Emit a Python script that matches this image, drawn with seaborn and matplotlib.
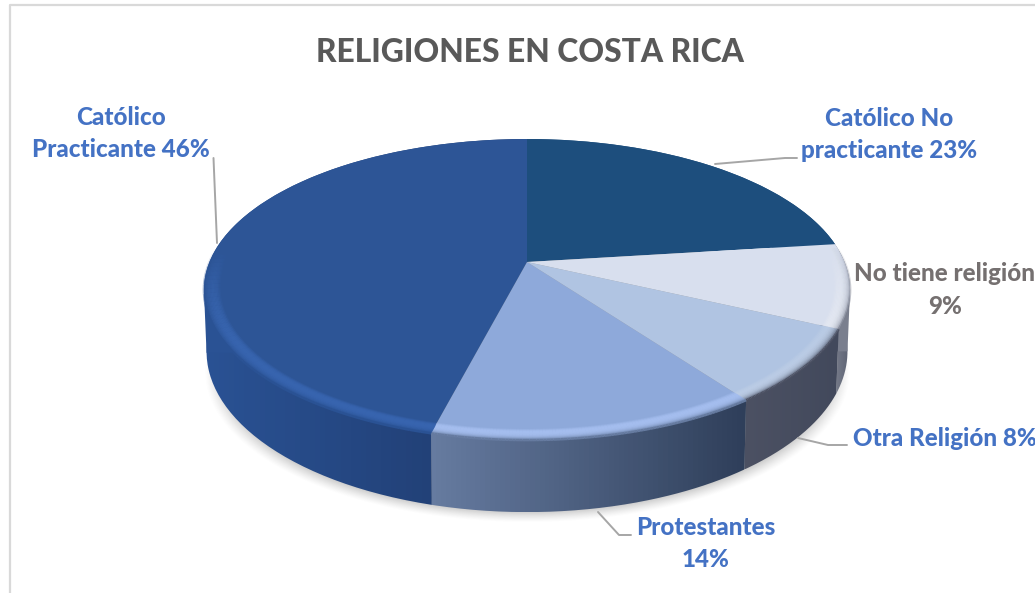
import matplotlib
matplotlib.use('Agg')
import matplotlib.pyplot as plt
import matplotlib.transforms as mtransforms
from matplotlib.collections import LineCollection
from matplotlib.colors import LinearSegmentedColormap, to_rgb
from matplotlib.patches import PathPatch
from matplotlib.path import Path
import seaborn as sns
import numpy as np

categories = ['Católico No\npracticante', 'No tiene religión\n', 'Otra Religión', 'Protestantes\n', 'Católico\nPracticante']
values = [23, 9, 8, 14, 46]
top_colors = ['#1d4e7d', '#d8dfee', '#b0c4e2', '#8ea9da', '#2d5596']
bevel_colors = ['#1d4e7d', '#e6eaf3', '#bccde6', '#a6bff0', '#3865b0']
rim_left = ['#1d4e7d', '#7a7f8e', '#4c5163', '#667ba0', '#2a5294']
rim_right = ['#1d4e7d', '#5a6070', '#42495c', '#2f3f5a', '#1f3a6c']
label_colors = ['#4472c4', '#757070', '#4472c4', '#4472c4', '#4472c4']

# pie geometry in pixels
CX, CY = 527.0, 262.0
A, B, K = 317.6, 145.5, 0.183
DEPTH = 60.0
SHRINK = 0.992


class Perspective(mtransforms.Transform):
    # tilts the unit disc of ax.pie into the view of the 3D pie
    input_dims = 2
    output_dims = 2
    has_inverse = False

    def __init__(self, scale=1.0, drop=0.0):
        super().__init__()
        self.scale = scale
        self.drop = drop

    def transform_non_affine(self, xy):
        xy = np.asarray(xy, dtype=float)
        u, v = xy[:, 0], -xy[:, 1]
        w = 1 - K * v
        return np.column_stack([CX + self.scale * A * u / w,
                                CY + self.scale * B * v / w + self.drop / w])


def arc(theta1, theta2, radius=1.0, n=80):
    t = np.radians(np.linspace(theta1, theta2, n))
    return np.column_stack([radius * np.cos(t), radius * np.sin(t)])


sns.set_theme(style='white')
plt.rcParams['font.family'] = ['Lato', 'DejaVu Sans']

fig = plt.figure(figsize=(10.35, 5.93), dpi=100)
ax = fig.add_axes([0, 0, 1, 1])
palette = sns.color_palette(top_colors)

wedges, _ = ax.pie(values, colors=palette, startangle=90, counterclock=False)
ax.set_aspect('auto')
ax.set_xlim(0, 1035)
ax.set_ylim(593, 0)
ax.axis('off')

top_tf = Perspective()
bottom_tf = Perspective(SHRINK, DEPTH)

# soft shadow on the ground
gx, gy = np.meshgrid(np.arange(0, 1035), np.arange(0, 593))
sy = gy - CY - DEPTH - 22
sx = gx - CX
gv = sy / (B + K * sy)
gu = sx * (1 - K * gv) / A
rr = np.hypot(gu, gv)
shadow = np.zeros(gx.shape + (4,))
shadow[..., :3] = 0.35
shadow[..., 3] = 0.55 * np.clip((1.0 - rr) / 0.08, 0, 1) ** 1.3
ax.imshow(shadow, extent=(0, 1035, 593, 0), zorder=1, aspect='auto', interpolation='bilinear')

# side wall of every slice, with a left to right gradient
for i, wedge in enumerate(wedges):
    lo, hi = wedge.theta1, wedge.theta2
    edge = arc(lo, hi, n=160)
    ptop = top_tf.transform_non_affine(edge)
    pbot = bottom_tf.transform_non_affine(edge)
    outline = np.vstack([ptop, pbot[::-1], ptop[:1]])
    xmin, xmax = outline[:, 0].min(), outline[:, 0].max()
    ymin, ymax = outline[:, 1].min(), outline[:, 1].max()
    cmap = LinearSegmentedColormap.from_list(f'rim{i}', [rim_left[i], rim_right[i]])
    img = ax.imshow(np.linspace(0, 1, 64)[None, :], cmap=cmap, aspect='auto',
                    extent=(xmin, xmax, ymax, ymin), zorder=2)
    img.set_clip_path(PathPatch(Path(outline), transform=ax.transData))
    # close the tangent gap between top and bottom disc at the widest points
    for pick, nudge in ((np.argmin, 30), (np.argmax, -30)):
        a, b = ptop[pick(ptop[:, 0])], pbot[pick(pbot[:, 0])]
        is_extreme = abs(a[0] - CX) > 0.99 * A * 1.017 and abs(b[0] - CX) > 0.98 * A * 1.017
        if is_extreme:
            ax.fill([a[0], b[0], b[0] + nudge, a[0] + nudge], [a[1], b[1], b[1], a[1]],
                    color=rim_left[i], lw=0, zorder=2)

# top faces from ax.pie, tilted
for wedge in wedges:
    wedge.set_transform(top_tf + ax.transData)
    wedge.set_edgecolor('none')
    wedge.set_zorder(4)

# bevel around the top edge, only towards the viewer
radii = np.linspace(0.95, 1.0, 14)
for i, wedge in enumerate(wedges):
    lo, hi = wedge.theta1, wedge.theta2
    col = np.array(to_rgb(bevel_colors[i]))
    dark = np.array(to_rgb(rim_left[i]))
    for r in radii:
        pts = arc(lo, hi, r, 100)
        xy = top_tf.transform_non_affine(pts)
        segs = np.stack([xy[:-1], xy[1:]], axis=1)
        front = np.clip((-pts[:-1, 1] / r + 0.1) / 0.6, 0, 1)
        f = (r - radii[0]) / (radii[-1] - radii[0])
        strength = 0.85 * np.sin(np.pi * min(f * 1.1, 1.0)) ** 0.8
        c = col * (1 - f ** 5) + dark * f ** 5
        rgba = np.zeros((len(segs), 4))
        rgba[:, :3] = c
        rgba[:, 3] = np.clip(front * (strength + f ** 5), 0, 1)
        ax.add_collection(LineCollection(segs, colors=rgba, linewidths=1.8, zorder=5), autolim=False)

# chart frame
ax.plot([10, 10, 1035], [593, 5, 5], color='#d9d9d9', lw=1.6, zorder=6)

# leader lines
leaders = [([213.5, 217], [158, 243]),
           ([715, 785, 797], [164, 158, 158]),
           ([798, 828, 847], [438, 445, 445]),
           ([598, 619, 631], [512, 535, 535])]
for lx, ly in leaders:
    ax.plot(lx, ly, color='#a6a6a6', lw=1.4, zorder=6)

ax.text(530, 53, 'RELIGIONES EN COSTA RICA', color='#595959', fontsize=22.9, fontweight=900,
        ha='center', va='center', zorder=7)

# labels
label_pos = [(889, 134.5), (945, 290), (945, 439), (705.5, 543.5), (121, 133.5)]
for name, val, col, (lx, ly) in zip(categories, values, label_colors, label_pos):
    if name.endswith('\n'):
        text = f'{name}{val}%'
    else:
        text = f'{name} {val}%'
    ax.text(lx, ly, text, color=col, fontsize=17.4, fontweight=900, ha='center', va='center',
            linespacing=1.5, zorder=7)

fig.savefig('out.png', dpi=100)
plt.close(fig)
